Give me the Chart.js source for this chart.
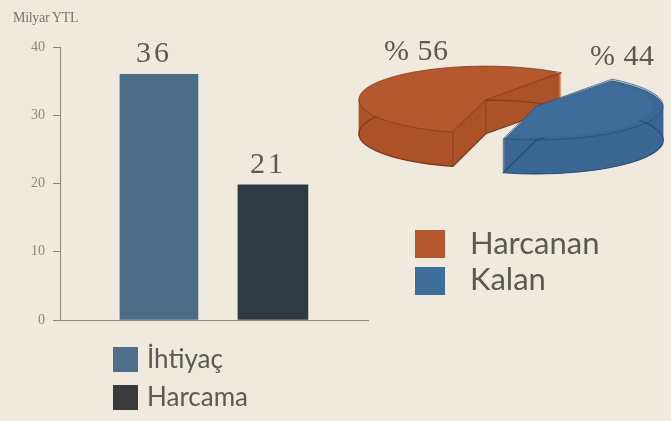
<!DOCTYPE html>
<html lang="tr">
<head>
<meta charset="utf-8">
<script src="https://cdn.jsdelivr.net/npm/chart.js@4"></script>
<style>
html,body{margin:0;padding:0;background:#efeadd;overflow:hidden}
#stage{position:relative;width:671px;height:421px;overflow:hidden;background:#efeadd;filter:blur(.6px)}
canvas{position:absolute}
.t{position:absolute;white-space:nowrap;color:#5a5954;line-height:1}
.sw{position:absolute}
</style>
</head>
<body>
<div id="stage">
  <canvas id="bars" width="671" height="421" style="left:0;top:0;width:671px;height:421px"></canvas>
  <canvas id="pie" width="310" height="310" style="left:356px;top:0;width:310px;height:310px"></canvas>
</div>
<script>
const unitLabel = "Milyar YTL";
const barCategories = ["İhtiyaç", "Harcama"];
const barValues = [36, 19.8];
const barValueLabels = ["36", "21"];
const barPositions = [1, 2];
const yTicks = [0, 10, 20, 30, 40];
const barColors = ["#4b6b86", "#2f3a42"];
const barLegendColors = ["#4f6e89", "#3a3a3d"];
const pieCategories = ["Harcanan", "Kalan"];
const pieValues = [56, 44];
const pieLabels = ["% 56", "% 44"];
const pieColors = ["#b5582d", "#3f6d9a"];
const pieSideColors = ["#ad5229", "#3b6794"];
const pieEdgeColors = ["#7d3a1b", "#294c70"];

const serif = '"Liberation Serif", serif';
const sans = 'Lato, sans-serif';

const barLabelPlugin = {
  id: "barLabels",
  afterDatasetsDraw(chart) {
    const ctx = chart.ctx;
    ctx.save();
    ctx.fillStyle = "#5a5954";
    ctx.font = "30px " + serif;
    ctx.letterSpacing = "3px";
    ctx.textAlign = "center";
    ctx.textBaseline = "alphabetic";
    chart.data.datasets.forEach((ds, i) => {
      const el = chart.getDatasetMeta(i).data[i];
      ctx.fillText(barValueLabels[i], el.x - 5, el.y - 12);
    });
    ctx.restore();
  }
};

new Chart(document.getElementById("bars"), {
  type: "bar",
  plugins: [barLabelPlugin],
  data: {
    datasets: barCategories.map((name, i) => ({
      label: name,
      data: barCategories.map((_, j) => j === i ? { x: barPositions[j], y: barValues[j] } : { x: barPositions[j], y: null }),
      backgroundColor: barColors[i],
      barThickness: i === 0 ? 78 : 70,
      grouped: false
    }))
  },
  options: {
    responsive: false,
    animation: false,
    layout: { padding: { left: 0, right: 303, top: 47, bottom: 101 } },
    plugins: { legend: { display: false }, tooltip: { enabled: false } },
    scales: {
      x: {
        type: "linear", min: 0.132, max: 2.834, offset: false,
        grid: { display: false, drawTicks: false },
        ticks: { display: false },
        border: { display: true, color: "#8b8676", width: 1 }
      },
      y: {
        min: 0, max: 40,
        afterFit(s) { s.width = 60; },
        afterBuildTicks(s) { s.ticks = yTicks.map(v => ({ value: v })); },
        grid: { drawOnChartArea: false, drawTicks: true, tickLength: 7, color: "#8b8676" },
        border: { display: true, color: "#8b8676", width: 1 },
        ticks: { color: "#8d887b", padding: 8, font: { family: serif, size: 14 } }
      }
    }
  }
});

const SQUASH = 0.265, DEPTH = 34, TARGET_CY = 103;
const pie3d = {
  id: "pie3d",
  beforeDatasetsDraw(chart) {
    const ctx = chart.ctx;
    const arcs = chart.getDatasetMeta(0).data;
    const cy = (chart.chartArea.top + chart.chartArea.bottom) / 2;
    const place = dy => {
      ctx.translate(0, TARGET_CY + dy);
      ctx.scale(1, SQUASH);
      ctx.translate(0, -cy);
    };
    arcs.forEach((arc, i) => {
      const mid = (arc.startAngle + arc.endAngle) / 2;
      // the arc element moves by a quarter of its offset option and grows by the same amount
      const off = arc.options.offset / 4;
      const x = arc.x + Math.cos(mid) * off, y = arc.y + Math.sin(mid) * off;
      const r = arc.outerRadius + off;
      const path = () => {
        ctx.beginPath();
        ctx.moveTo(x, y);
        ctx.arc(x, y, r, arc.startAngle, arc.endAngle);
        ctx.closePath();
      };
      for (let d = DEPTH; d >= 1; d--) {
        ctx.save(); place(d); path(); ctx.fillStyle = pieSideColors[i]; ctx.fill(); ctx.restore();
      }
      ctx.save(); place(DEPTH); path(); ctx.restore();
      ctx.strokeStyle = pieEdgeColors[i]; ctx.lineWidth = 1.2; ctx.stroke();

      // visible vertical corners: the orange apex and front corner, the blue front corner
      const corners = i === 0
        ? [[x, y], [x + Math.cos(arc.startAngle) * r, y + Math.sin(arc.startAngle) * r]]
        : [[x + Math.cos(arc.endAngle) * r, y + Math.sin(arc.endAngle) * r]];
      ctx.beginPath();
      corners.forEach(([px, py]) => {
        const top = TARGET_CY + (py - cy) * SQUASH;
        ctx.moveTo(px, top); ctx.lineTo(px, top + DEPTH);
      });
      ctx.lineWidth = 1; ctx.globalAlpha = .7; ctx.stroke(); ctx.globalAlpha = 1;

      ctx.save(); place(0); arc.draw(ctx); path(); ctx.restore();
      ctx.globalAlpha = .75; ctx.lineWidth = 1; ctx.stroke(); ctx.globalAlpha = 1;
    });
    return false;
  }
};

new Chart(document.getElementById("pie"), {
  type: "pie",
  plugins: [pie3d],
  data: {
    labels: pieCategories,
    datasets: [{ data: pieValues, backgroundColor: pieColors, borderWidth: 0, offset: 112 }]
  },
  options: {
    responsive: false,
    animation: false,
    rotation: 195,
    plugins: { legend: { display: false }, tooltip: { enabled: false } }
  }
});

const stage = document.getElementById("stage");
function text(str, left, top, size, family, extra) {
  const d = document.createElement("div");
  d.className = "t";
  d.textContent = str;
  d.style.cssText = `left:${left}px;top:${top}px;font-size:${size}px;font-family:${family};${extra || ""}`;
  stage.appendChild(d);
}
function swatch(color, left, top, w, h) {
  const d = document.createElement("div");
  d.className = "sw";
  d.style.cssText = `left:${left}px;top:${top}px;width:${w}px;height:${h}px;background:${color}`;
  stage.appendChild(d);
}
text(unitLabel, 13, 11, 14, serif, "color:#77746a;letter-spacing:-.3px");
text(pieLabels[0], 384, 35, 30, serif, "letter-spacing:.5px");
text(pieLabels[1], 590, 40, 30, serif, "letter-spacing:.5px");
barCategories.forEach((name, i) => {
  swatch(barLegendColors[i], 113, 347 + i * 38, 25, 25);
  text(name, 147, 345 + i * 38, 26, sans);
});
pieCategories.forEach((name, i) => {
  swatch(pieColors[i], 415, 230 + i * 37, 30, 28);
  text(name, 470, 227 + i * 36, 31, sans);
});
</script>
</body>
</html>
